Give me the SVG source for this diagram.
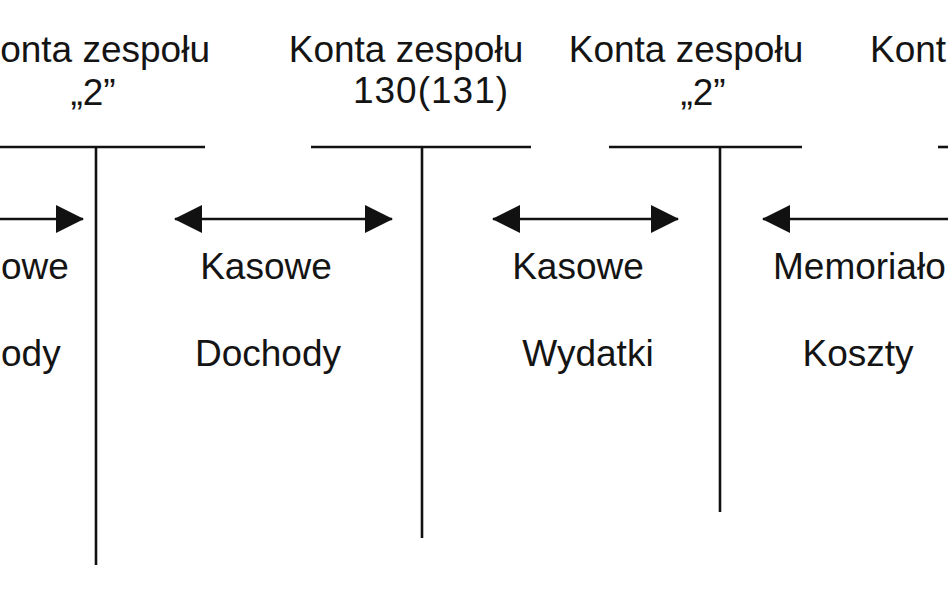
<svg xmlns="http://www.w3.org/2000/svg" width="948" height="593" viewBox="0 0 948 593">
  <style>
    .t { font-family: "Liberation Sans", Arial, sans-serif; font-size: 37px; fill: #141414; }
    .m { text-anchor: middle; }
    .e { text-anchor: end; }
    .ln { stroke: #111; stroke-width: 2.6; fill: none; }
  </style>
  <defs>
    <marker id="ah" viewBox="0 0 28 28" refX="27" refY="14" markerWidth="28" markerHeight="28" markerUnits="userSpaceOnUse" orient="auto-start-reverse">
      <path d="M0,0 L28,14 L0,28 Z" fill="#111"/>
    </marker>
  </defs>
  <rect width="948" height="593" fill="#ffffff"/>

  <g id="konto-zespol2-left">
    <text class="t e" x="210" y="62">onta zespołu</text>
    <text class="t m" x="93" y="105">„2”</text>
    <line class="ln" x1="0" y1="147" x2="205" y2="147"/>
    <line class="ln" x1="96" y1="147" x2="96" y2="565"/>
  </g>

  <g id="konto-zespol130">
    <text class="t m" x="406" y="62">Konta zespołu</text>
    <text class="t m" x="431" y="103" letter-spacing="1">130(131)</text>
    <line class="ln" x1="311" y1="147" x2="531" y2="147"/>
    <line class="ln" x1="422" y1="147" x2="422" y2="538"/>
  </g>

  <g id="konto-zespol2-right">
    <text class="t m" x="686" y="62">Konta zespołu</text>
    <text class="t m" x="703" y="105">„2”</text>
    <line class="ln" x1="609" y1="147" x2="802" y2="147"/>
    <line class="ln" x1="720" y1="147" x2="720" y2="512"/>
  </g>

  <g id="konto-edge-right">
    <text class="t" x="870" y="62">Kont</text>
    <line class="ln" x1="938" y1="147" x2="948" y2="147"/>
  </g>

  <g id="connectors">
    <line class="ln" x1="0" y1="219" x2="83" y2="219" marker-end="url(#ah)"/>
    <text class="t" x="1" y="279">owe</text>
    <text class="t" x="1" y="366">ody</text>

    <line class="ln" x1="175" y1="219" x2="392" y2="219" marker-start="url(#ah)" marker-end="url(#ah)"/>
    <text class="t m" x="266" y="279">Kasowe</text>
    <text class="t m" x="268" y="366">Dochody</text>

    <line class="ln" x1="493" y1="219" x2="678" y2="219" marker-start="url(#ah)" marker-end="url(#ah)"/>
    <text class="t m" x="578" y="279">Kasowe</text>
    <text class="t m" x="588" y="366">Wydatki</text>

    <line class="ln" x1="763" y1="219" x2="948" y2="219" marker-start="url(#ah)"/>
    <text class="t" x="773" y="279">Memoriało</text>
    <text class="t m" x="858" y="366">Koszty</text>
  </g>
</svg>
